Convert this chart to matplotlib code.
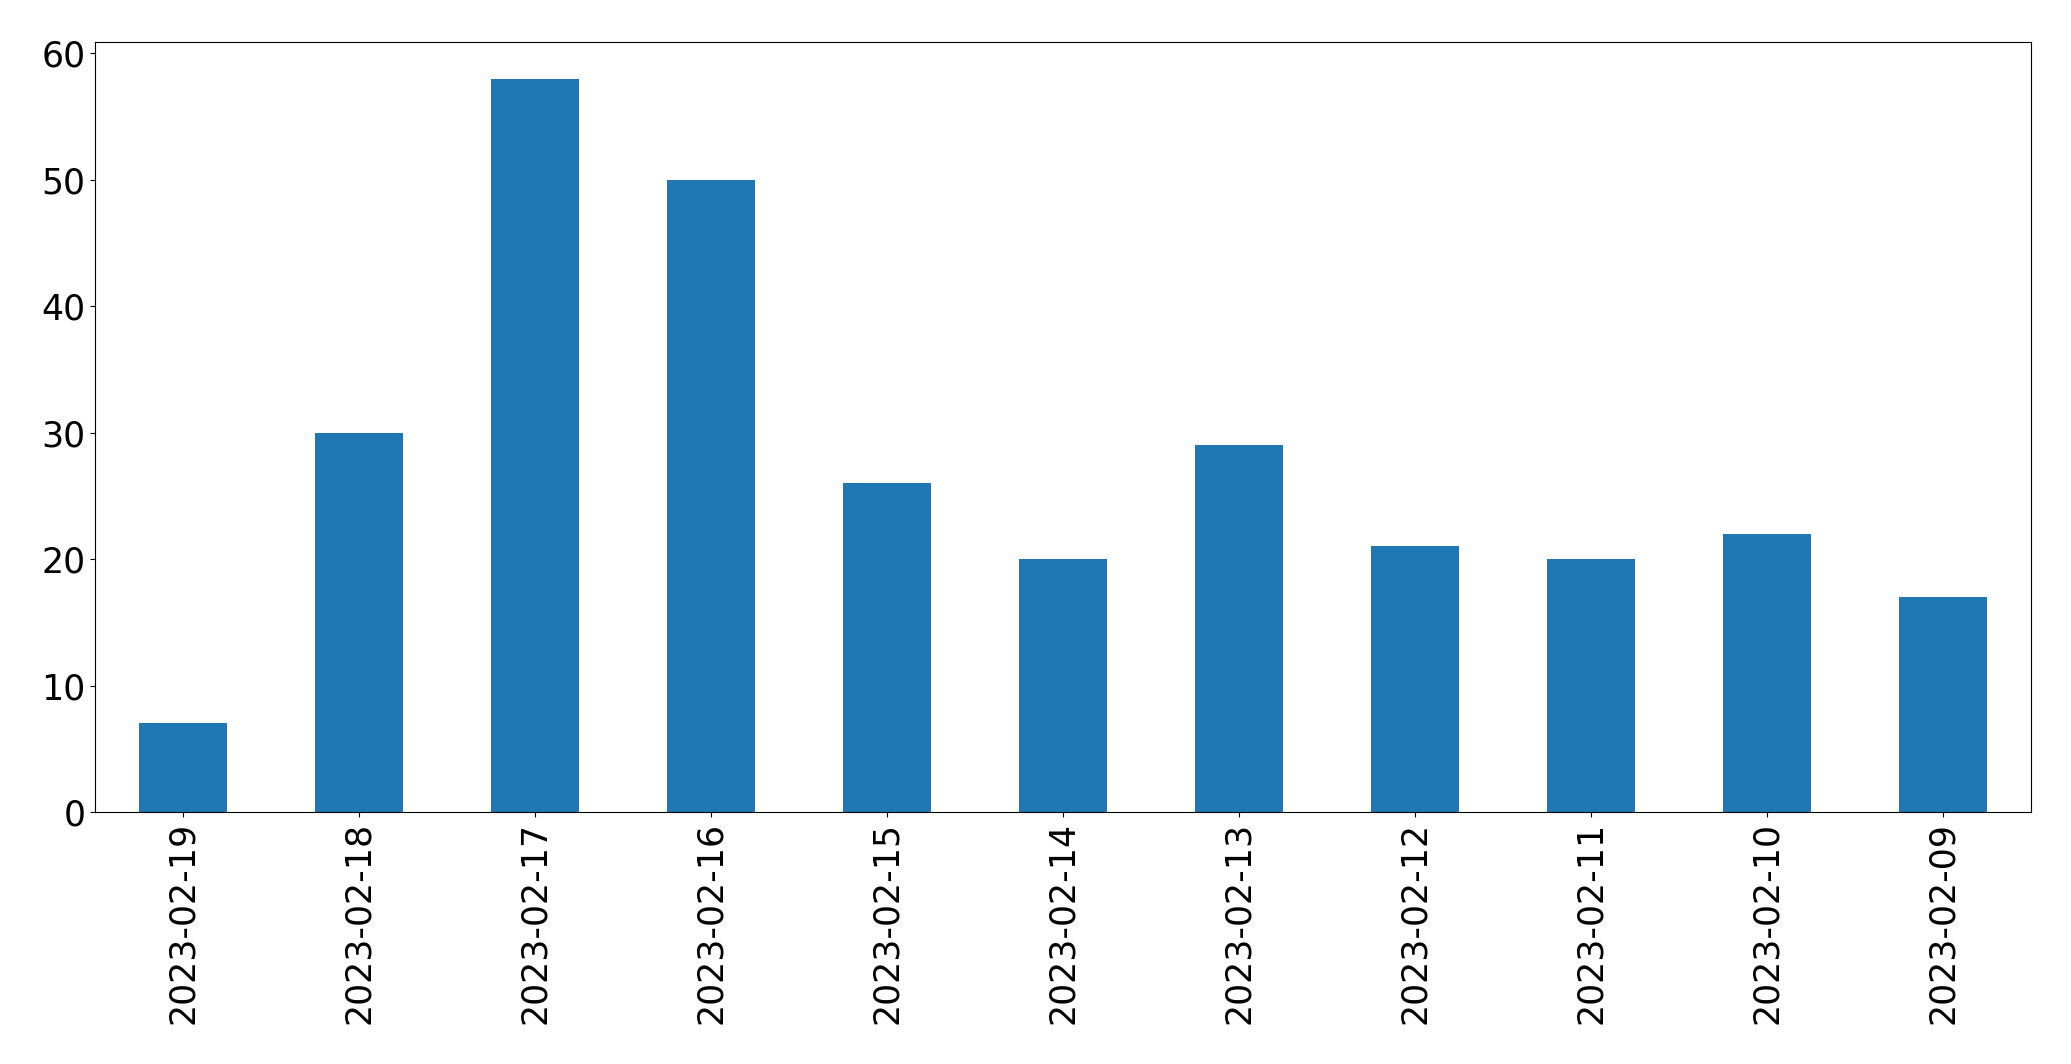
import numpy as np
import matplotlib.pyplot as plt

dates = ['2023-02-19', '2023-02-18', '2023-02-17', '2023-02-16', '2023-02-15',
         '2023-02-14', '2023-02-13', '2023-02-12', '2023-02-11', '2023-02-10',
         '2023-02-09']
counts = [7, 30, 58, 50, 26, 20, 29, 21, 20, 22, 17]

fig = plt.figure(figsize=(20.71, 10.64), dpi=100)
ax = fig.add_axes([95 / 2071, 1 - 812 / 1064, (2031 - 95) / 2071, (812 - 42) / 1064])

x = np.arange(len(dates))
ax.bar(x, counts, width=0.5, color='#1f77b4')
ax.set_xlim(-0.5, len(dates) - 0.5)
ax.set_ylim(0, max(counts) * 1.05)
ax.set_xticks(x)
ax.set_xticklabels(dates, rotation=90)
ax.tick_params(labelsize=25)

fig.savefig('out.png', dpi=100)
